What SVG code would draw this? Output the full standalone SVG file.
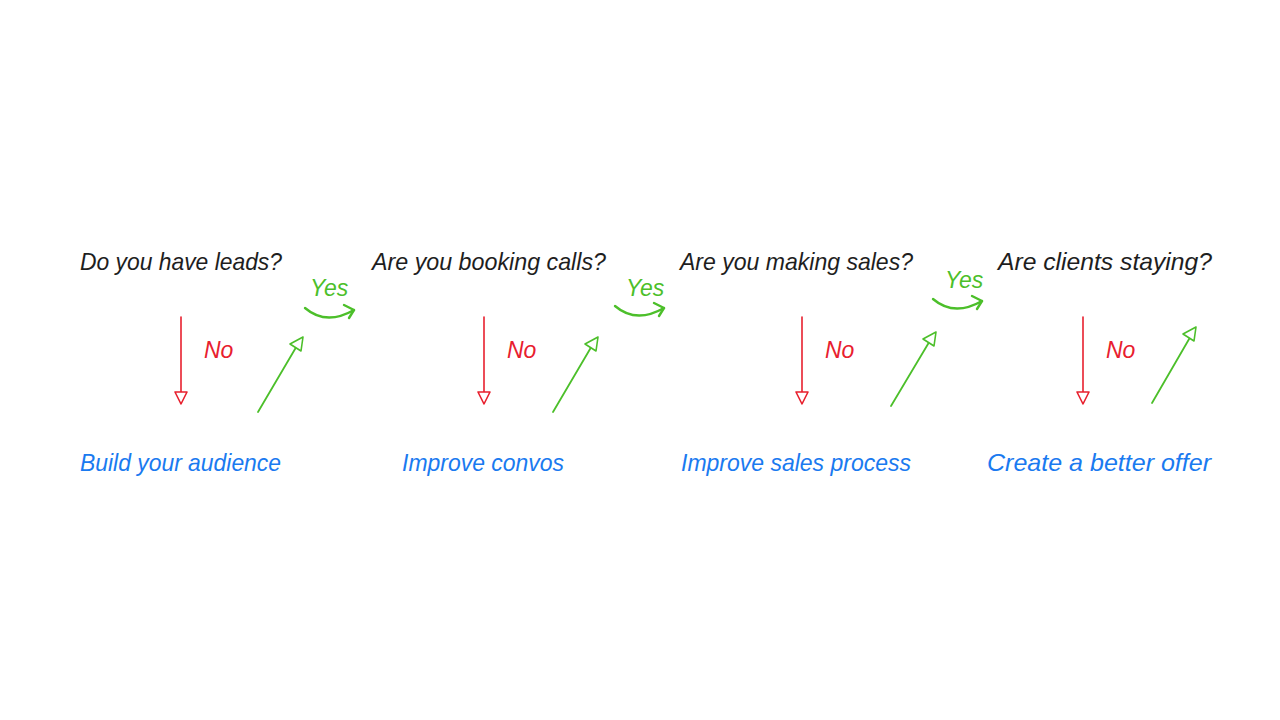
<svg xmlns="http://www.w3.org/2000/svg" width="1280" height="720" viewBox="0 0 1280 720">
<style>
text{font-family:"Liberation Sans",Arial,sans-serif;font-style:italic;font-size:24px}
.q{fill:#1e1e1e}
.a{fill:#1a7af0}
.yes{fill:#4cbf2a;font-size:23px}
.no{fill:#e8202e;font-size:23px}
.r{stroke:#e8202e;stroke-width:1.6;fill:none;stroke-linecap:round}
.rh{stroke:#e8202e;stroke-width:1.6;fill:#fff;stroke-linejoin:round}
.g{stroke:#4cbf2a;stroke-width:1.8;fill:none;stroke-linecap:round;stroke-linejoin:round}
.gy{stroke:#4cbf2a;stroke-width:2.4;fill:none;stroke-linecap:round;stroke-linejoin:round}
.gh{stroke:#4cbf2a;stroke-width:1.6;fill:#fff;stroke-linejoin:round}
</style>
<rect width="1280" height="720" fill="#fff"/>
<g id="q1"><text class="q" x="80" y="270" textLength="202" lengthAdjust="spacingAndGlyphs">Do you have leads?</text></g>
<g id="q2"><text class="q" x="372" y="270" textLength="234" lengthAdjust="spacingAndGlyphs">Are you booking calls?</text></g>
<g id="q3"><text class="q" x="680" y="270" textLength="233" lengthAdjust="spacingAndGlyphs">Are you making sales?</text></g>
<g id="q4"><text class="q" x="998" y="270" textLength="214" lengthAdjust="spacingAndGlyphs">Are clients staying?</text></g>
<g id="a1"><text class="a" x="80" y="471" textLength="201" lengthAdjust="spacingAndGlyphs">Build your audience</text></g>
<g id="a2"><text class="a" x="402" y="471" textLength="162" lengthAdjust="spacingAndGlyphs">Improve convos</text></g>
<g id="a3"><text class="a" x="681" y="471" textLength="230" lengthAdjust="spacingAndGlyphs">Improve sales process</text></g>
<g id="a4"><text class="a" x="987" y="471" textLength="224" lengthAdjust="spacingAndGlyphs">Create a better offer</text></g>
<g id="connectors">
  <line class="r" x1="181" y1="317" x2="181" y2="403"/>
  <polygon class="rh" points="175,392 187,392 181,404"/>
  <line class="r" x1="484" y1="317" x2="484" y2="403"/>
  <polygon class="rh" points="478,392 490,392 484,404"/>
  <line class="r" x1="802" y1="317" x2="802" y2="403"/>
  <polygon class="rh" points="796,392 808,392 802,404"/>
  <line class="r" x1="1083" y1="317" x2="1083" y2="403"/>
  <polygon class="rh" points="1077,392 1089,392 1083,404"/>
  <text class="no" x="204" y="358">No</text>
  <text class="no" x="507" y="358">No</text>
  <text class="no" x="825" y="358">No</text>
  <text class="no" x="1106" y="358">No</text>
  <line class="g" x1="258" y1="412" x2="298" y2="344"/>
  <polygon class="gh" points="303,337 301,351 290,344"/>
  <line class="g" x1="553" y1="412" x2="593" y2="344"/>
  <polygon class="gh" points="598,337 596,351 585,344"/>
  <line class="g" x1="891" y1="406" x2="931" y2="339"/>
  <polygon class="gh" points="936,332 934,346 923,339"/>
  <line class="g" x1="1152" y1="403" x2="1192" y2="334"/>
  <polygon class="gh" points="1196,327 1194,341 1183,334"/>
  <path class="gy" d="M305,308 Q326,326 354,310"/>
  <path class="gy" d="M344,305 L354,310 L349,318"/>
  <path class="gy" d="M615,306 Q636,324 664,308"/>
  <path class="gy" d="M654,303 L664,308 L659,316"/>
  <path class="gy" d="M933,299 Q954,317 982,301"/>
  <path class="gy" d="M972,296 L982,301 L977,309"/>
  <text class="yes" x="310" y="296">Yes</text>
  <text class="yes" x="626" y="296">Yes</text>
  <text class="yes" x="945" y="288">Yes</text>
</g>
</svg>
